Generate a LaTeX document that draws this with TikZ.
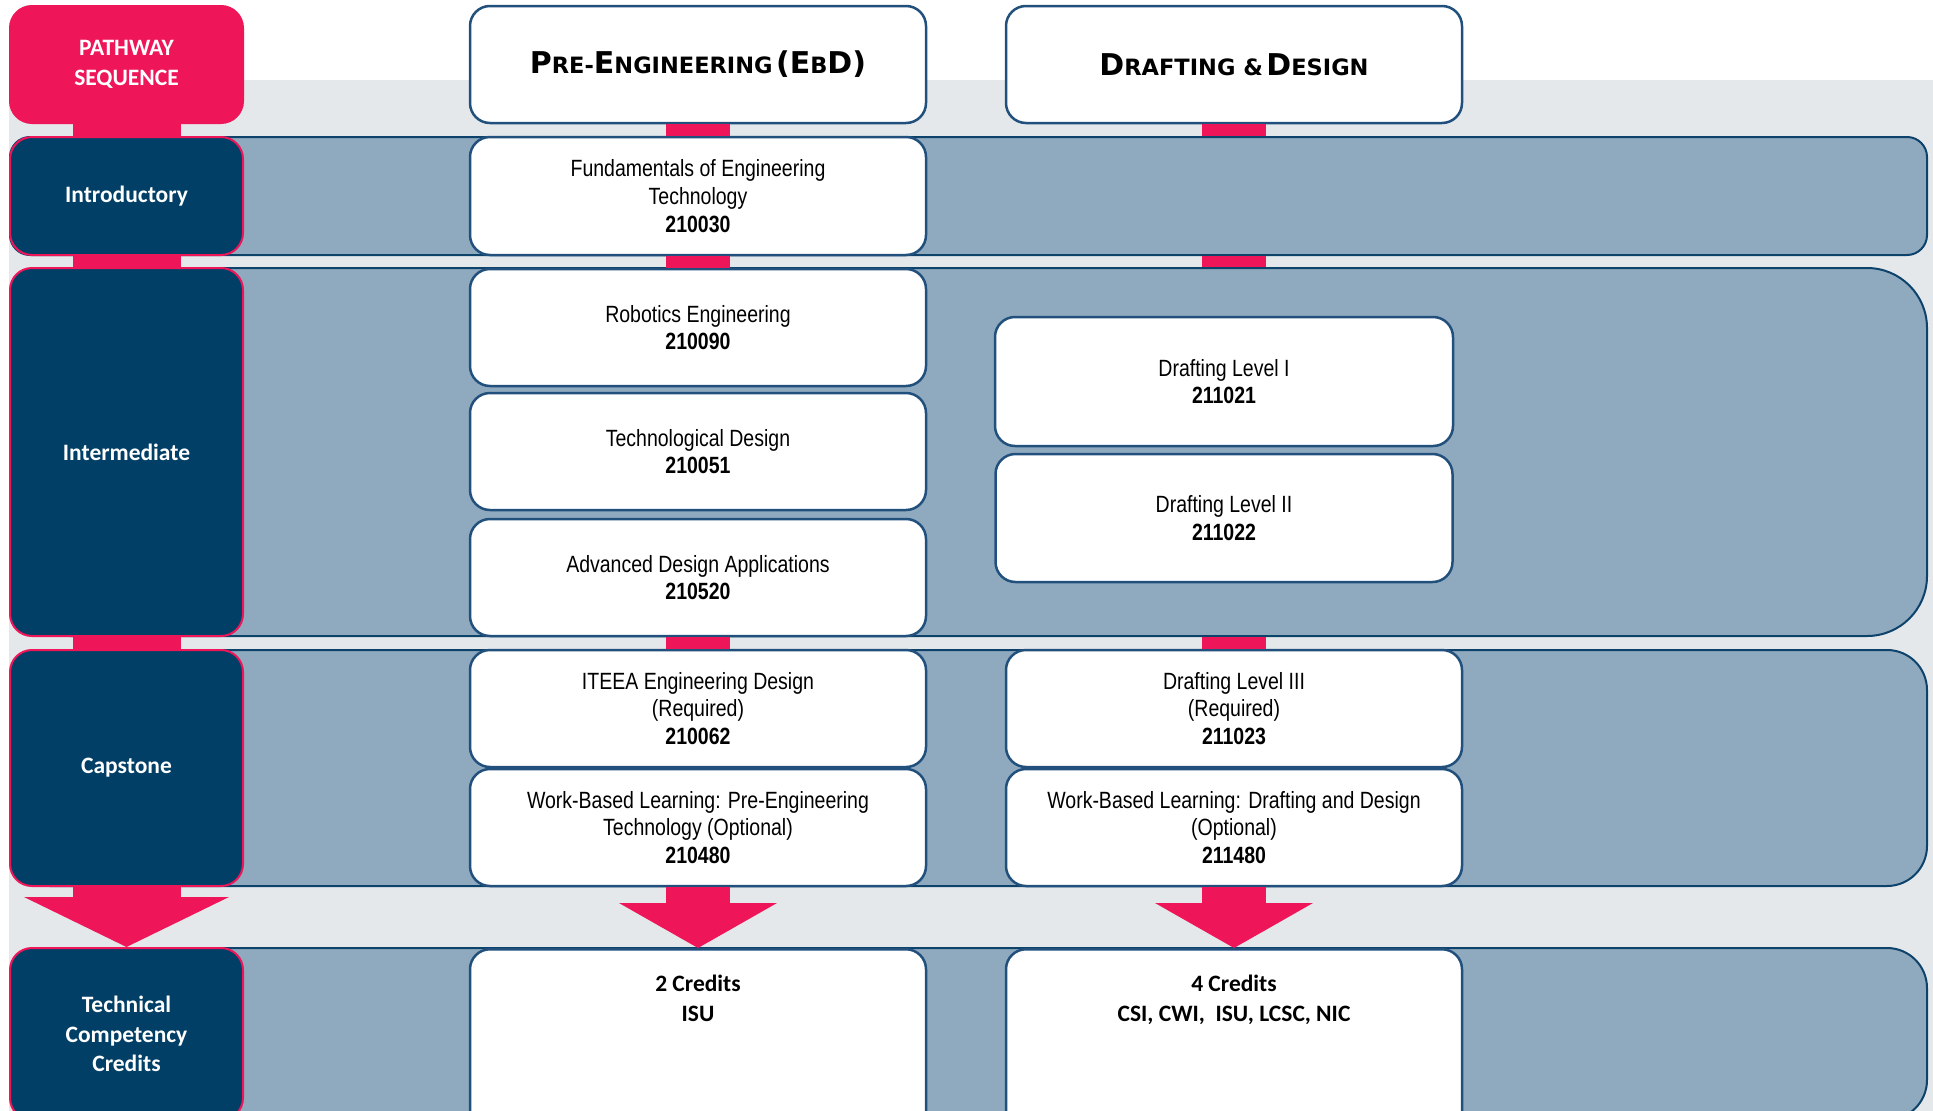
\documentclass[tikz,border=0pt]{standalone}
\usepackage{fontspec}
\usetikzlibrary{arrows.meta, positioning}
\newfontfamily\narrowfont[FakeStretch=0.83]{Liberation Sans}
\newfontfamily\labfont{Carlito}
\newfontfamily\headfont{DejaVu Sans}
\definecolor{pathpink}{HTML}{EE1659}
\definecolor{navy}{HTML}{023F66}
\definecolor{bandfill}{HTML}{8FAABF}
\definecolor{bandline}{HTML}{0D426B}
\definecolor{boxline}{HTML}{22507D}
\definecolor{bggray}{HTML}{E4E8EB}
\newcommand{\capbig}[1]{{\fontsize{30}{34}\selectfont #1}}
\newcommand{\capsmall}[1]{{\fontsize{22.5}{34}\selectfont #1}}
\tikzset{%
  x=1pt, y=-1pt, % work in pixels of the page, y going down
  lab/.style={draw=pathpink, fill=navy, line width=2pt, rounded corners=22pt,
    minimum width=233pt, text=white, align=center,
    font=\labfont\bfseries\fontsize{23.5}{29.6}\selectfont},
  band/.style={draw=bandline, fill=bandfill, line width=2pt, minimum width=1917pt},
  course/.style={draw=boxline, fill=white, line width=2.5pt, rounded corners=20pt,
    minimum width=456pt, minimum height=117pt, align=center,
    font=\narrowfont\fontsize{23.5}{27.7}\selectfont},
  head/.style={course, font=\headfont\bfseries},
  credit/.style={course, anchor=north, minimum height=0pt, inner ysep=8pt,
    text height=64pt, text depth=110pt,
    font=\labfont\bfseries\fontsize{23.5}{29.6}\selectfont},
  link/.style={draw=pathpink, line width=64pt},
  wide/.style={draw=pathpink, line width=108pt},
  down/.style={link, -{Triangle[length=45pt, width=158pt, line width=0pt]}},
  widedown/.style={wide, -{Triangle[length=50pt, width=205pt, line width=0pt]}}
}
\begin{document}
\begin{tikzpicture}
    \useasboundingbox (0,0) rectangle (1933,1111);
    \clip (0,0) rectangle (1933,1111);
    \fill[bggray] (9,80) rectangle (1933,1111);

    % rows
    \node[band, rounded corners=20pt, minimum height=118pt] (bIntro) at (968.5,196) {};
    \node[band, rounded corners=60pt, minimum height=368pt] (bInter) at (968.5,452) {};
    \node[band, rounded corners=40pt, minimum height=236pt] (bCap) at (968.5,768) {};
    \node[band, rounded corners=40pt, minimum height=172pt] (bTcc) at (968.5,1034) {};

    % left column
    \node[lab, fill=pathpink, minimum height=117pt] (seq) at (126.5,64.5) {PATHWAY\\SEQUENCE};
    \node[lab, minimum height=118pt] (intro) at (126.5,196) {Introductory};
    \node[lab, minimum height=368pt] (inter) at (126.5,452) {Intermediate};
    \node[lab, minimum height=236pt] (cap) at (126.5,768) {Capstone};
    \node[lab, minimum height=172pt] (tcc) at (126.5,1034) {Technical\\Competency\\Credits};

    % pre-engineering
    \node[head] (hdrP) at (698,64.5) {\capbig{P}\capsmall{RE-}\capbig{E}\capsmall{NGINEERING} \capbig{(E}\capsmall{B}\capbig{D)}};
    \node[course, minimum height=118pt] (fund) at (698,196) {Fundamentals of Engineering\\Technology\\\textbf{210030}};
    \node[course] (robo) at (698,327.5) {Robotics Engineering\\\textbf{210090}};
    \node[course, below=4.5pt of robo] (tech) {Technological Design\\\textbf{210051}};
    \node[course, below=6.5pt of tech] (adv) {Advanced Design Applications\\\textbf{210520}};
    \node[course] (iteea) at (698,708.5) {ITEEA Engineering Design\\(Required)\\\textbf{210062}};
    \node[course, below=-0.5pt of iteea] (wblP) {Work-Based Learning: Pre-Engineering\\Technology (Optional)\\\textbf{210480}};
    \node[credit] (credP) at (698,948) {2 Credits\\ISU};

    % drafting
    \node[head] (hdrD) at (1234,64.5) {\capbig{D}\capsmall{RAFTING \&} \capbig{D}\capsmall{ESIGN}};
    \node[course, minimum width=458pt, minimum height=129pt] (dl1) at (1224,381.5) {Drafting Level I\\\textbf{211021}};
    \node[course, minimum width=457pt, minimum height=128pt, below=5.5pt of dl1] (dl2) {Drafting Level II\\\textbf{211022}};
    \node[course] (dl3) at (1234,708.5) {Drafting Level III\\(Required)\\\textbf{211023}};
    \node[course, below=-0.5pt of dl3] (wblD) {Work-Based Learning: Drafting and Design\\(Optional)\\\textbf{211480}};
    \node[credit] (credD) at (1234,948) {4 Credits\\CSI, CWI,~ ISU, LCSC, NIC};

    \draw[wide] (seq) -- (intro);
    \draw[wide] (intro) -- (inter);
    \draw[wide] (inter) -- (cap);
    \draw[widedown] (cap) -- (tcc);

    \draw[link] (hdrP) -- (fund);
    \draw[link] (fund) -- (robo);
    \draw[link] (adv) -- (iteea);
    \draw[down] (wblP) -- (credP);

    \draw[link] (hdrD) -- (hdrD |- bIntro.north);
    \draw[link] (hdrD |- bIntro.south) -- (hdrD |- bInter.north);
    \draw[link] (hdrD |- bInter.south) -- (dl3);
    \draw[down] (wblD) -- (credD);
\end{tikzpicture}
\end{document}
